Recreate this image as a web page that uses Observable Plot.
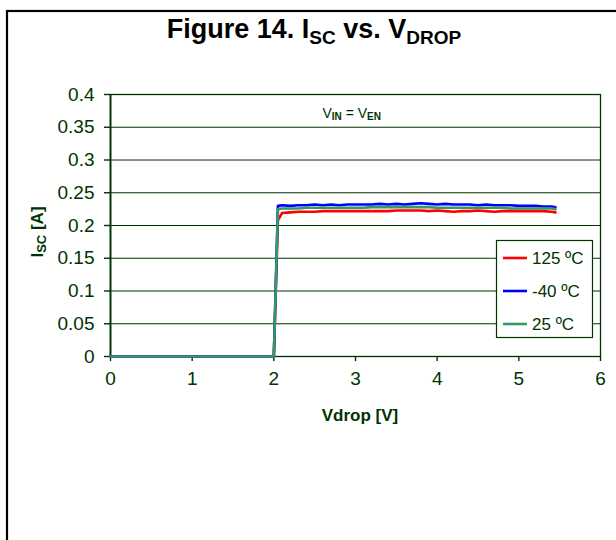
<!DOCTYPE html>
<html>
<head>
<meta charset="utf-8">
<script src="https://cdn.jsdelivr.net/npm/d3@7"></script>
<script src="https://cdn.jsdelivr.net/npm/@observablehq/plot@0.6"></script>
<style>
  html, body { margin: 0; padding: 0; background: #fff; }
  #chart { position: relative; width: 616px; height: 540px; overflow: hidden; }
</style>
</head>
<body>
<div id="chart"></div>
<script>
const vdrop = [0, 0.5, 1, 1.5, 2.0, 2.05, 2.1, 2.2, 2.3, 2.4, 2.5, 2.6, 2.7, 2.8, 2.9, 3.0, 3.1, 3.2, 3.3, 3.4, 3.5, 3.6, 3.7, 3.8, 3.9, 4.0, 4.1, 4.2, 4.3, 4.4, 4.5, 4.6, 4.7, 4.8, 4.9, 5.0, 5.1, 5.2, 5.3, 5.4, 5.45];
const isc125 = [0, 0, 0, 0, 0, 0.208, 0.219, 0.220, 0.221, 0.221, 0.221, 0.222, 0.222, 0.222, 0.222, 0.222, 0.222, 0.222, 0.222, 0.222, 0.223, 0.223, 0.223, 0.223, 0.222, 0.223, 0.222, 0.221, 0.222, 0.222, 0.223, 0.222, 0.221, 0.222, 0.222, 0.222, 0.222, 0.222, 0.222, 0.221, 0.220];
const iscM40 = [0, 0, 0, 0, 0, 0.230, 0.231, 0.230, 0.231, 0.231, 0.232, 0.231, 0.232, 0.231, 0.232, 0.232, 0.232, 0.232, 0.233, 0.232, 0.233, 0.232, 0.233, 0.234, 0.233, 0.232, 0.233, 0.232, 0.232, 0.232, 0.231, 0.232, 0.231, 0.231, 0.231, 0.230, 0.230, 0.230, 0.229, 0.229, 0.228];
const isc25 = [0, 0, 0, 0, 0, 0.225, 0.226, 0.226, 0.226, 0.227, 0.227, 0.227, 0.227, 0.227, 0.227, 0.227, 0.227, 0.228, 0.228, 0.228, 0.228, 0.228, 0.228, 0.228, 0.228, 0.227, 0.227, 0.227, 0.227, 0.227, 0.227, 0.227, 0.227, 0.227, 0.226, 0.226, 0.226, 0.226, 0.226, 0.226, 0.225];
const seriesNames = ["125 ºC", "-40 ºC", "25 ºC"];
const seriesColors = ["#FF0000", "#0000FF", "#339966"];
const xTicks = [0, 1, 2, 3, 4, 5, 6];
const yTicks = [0, 0.05, 0.1, 0.15, 0.2, 0.25, 0.3, 0.35, 0.4];
const yTickLabels = ["0", "0.05", "0.1", "0.15", "0.2", "0.25", "0.3", "0.35", "0.4"];

const seriesValues = [isc125, iscM40, isc25];
const rows = [];
seriesNames.forEach((name, i) => {
  vdrop.forEach((v, j) => rows.push({series: name, v, i: seriesValues[i][j]}));
});

const ink = "#003300";
const font = "'Liberation Sans', Arial, sans-serif";

const plot = Plot.plot({
  width: 616,
  height: 540,
  marginLeft: 110,
  marginRight: 16,
  marginTop: 94,
  marginBottom: 184,
  style: {fontFamily: font, color: ink, background: "white", overflow: "visible"},
  x: {domain: [0, 6]},
  y: {domain: [0, 0.4]},
  color: {domain: seriesNames, range: seriesColors},
  marks: [
    Plot.ruleY(yTicks.slice(1), {stroke: ink, strokeWidth: 1}),
    Plot.frame({stroke: ink, strokeWidth: 1.3}),
    Plot.axisY({ticks: yTicks, tickFormat: (d) => yTickLabels[yTicks.indexOf(d)], tickSize: 6, tickPadding: 10, fontSize: 19, stroke: ink, fill: ink, label: null, strokeWidth: 1.4}),
    Plot.axisX({ticks: xTicks, tickFormat: (d) => String(d), tickSize: 5, tickPadding: 10, fontSize: 19, stroke: ink, fill: ink, label: null, strokeWidth: 1.4}),
    Plot.ruleX([0], {stroke: ink, strokeWidth: 1.8}),
    Plot.line(rows, {x: "v", y: "i", z: "series", stroke: "series", strokeWidth: 2.6})
  ]
});

document.getElementById("chart").appendChild(plot);

const svg = d3.select(plot);
const xs = plot.scale("x"), ys = plot.scale("y");

// outer frame
svg.insert("rect", ":first-child")
  .attr("x", 7).attr("y", 11).attr("width", 700).attr("height", 700)
  .attr("fill", "white").attr("stroke", "black").attr("stroke-width", 2.2);

// title
const t = svg.append("text")
  .attr("x", 314).attr("y", 38).attr("text-anchor", "middle")
  .attr("font-family", font).attr("font-weight", "bold").attr("font-size", 27).attr("fill", "black");
t.append("tspan").text("Figure 14. I");
t.append("tspan").attr("font-size", 19).attr("dy", 6).text("SC");
t.append("tspan").attr("dy", -6).text(" vs. V");
t.append("tspan").attr("font-size", 19).attr("dy", 6).text("DROP");

// x axis title
svg.append("text")
  .attr("x", 360).attr("y", 421).attr("text-anchor", "middle")
  .attr("font-family", font).attr("font-weight", "bold").attr("font-size", 17).attr("fill", ink)
  .text("Vdrop [V]");

// y axis title
const yt = svg.append("text")
  .attr("transform", "translate(43,232) rotate(-90)").attr("text-anchor", "middle")
  .attr("font-family", font).attr("font-weight", "bold").attr("font-size", 17).attr("fill", ink);
yt.append("tspan").text("I");
yt.append("tspan").attr("font-size", 13).attr("dy", 3).text("SC");
yt.append("tspan").attr("dy", -3).text(" [A]");

// annotation
const an = svg.append("text")
  .attr("x", xs.apply(2.96)).attr("y", ys.apply(0.364)).attr("text-anchor", "middle")
  .attr("font-family", font).attr("font-size", 14).attr("fill", ink);
an.append("tspan").text("V");
an.append("tspan").attr("font-size", 10).attr("font-weight", "bold").attr("dy", 2).text("IN");
an.append("tspan").attr("dy", -2).text(" = V");
an.append("tspan").attr("font-size", 10).attr("font-weight", "bold").attr("dy", 2).text("EN");

// legend
const lg = svg.append("g").attr("text-anchor", "start");
lg.append("rect").attr("x", 496.5).attr("y", 240.5).attr("width", 96).attr("height", 97)
  .attr("fill", "white").attr("stroke", ink).attr("stroke-width", 1.2);
const ly = [258, 291, 324];
seriesNames.forEach((name, i) => {
  lg.append("line").attr("x1", 503).attr("x2", 527).attr("y1", ly[i]).attr("y2", ly[i])
    .attr("stroke", seriesColors[i]).attr("stroke-width", 2.6);
  lg.append("text").attr("x", 532).attr("y", ly[i] + 6).attr("text-anchor", "start")
    .attr("font-family", font).attr("font-size", 17).attr("fill", ink).text(name);
});
</script>
</body>
</html>
